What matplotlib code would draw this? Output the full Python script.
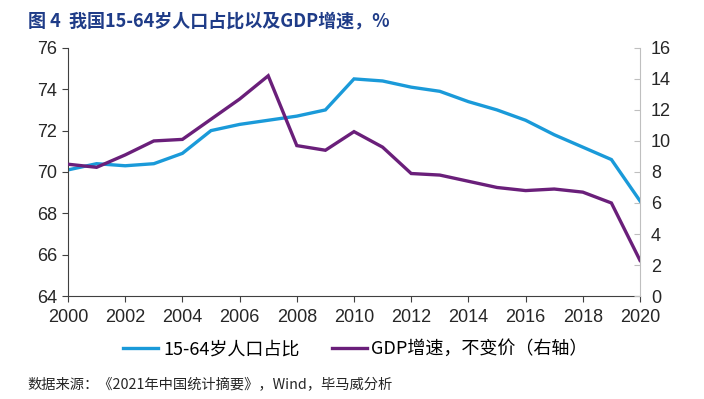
import matplotlib
matplotlib.use('Agg')
import matplotlib.pyplot as plt
from matplotlib.lines import Line2D

plt.rcParams['font.family'] = ['Noto Sans CJK SC', 'DejaVu Sans']

years = list(range(2000, 2021))
# 15-64岁人口占比, %
pop_share = [70.1, 70.4, 70.3, 70.4, 70.9, 72.0, 72.3, 72.5, 72.7, 73.0, 74.5,
             74.4, 74.1, 73.9, 73.4, 73.0, 72.5, 71.8, 71.2, 70.6, 68.6]
# GDP增速 不变价, %
gdp_growth = [8.5, 8.3, 9.1, 10.0, 10.1, 11.4, 12.7, 14.2, 9.7, 9.4, 10.6,
              9.6, 7.9, 7.8, 7.4, 7.0, 6.8, 6.9, 6.7, 6.0, 2.3]

blue = '#1a9ad9'
purple = '#6a1f7a'
tick_font = ['Liberation Sans', 'DejaVu Sans']

fig = plt.figure(figsize=(7.04, 3.99), dpi=100)
ax = fig.add_axes([0.0966, 0.258, 0.8125, 0.622])
ax2 = ax.twinx()

ax.plot(years, pop_share, color=blue, lw=2.4, solid_joinstyle='miter')
ax2.plot(years, gdp_growth, color=purple, lw=2.4, solid_joinstyle='miter')

ax.set_xlim(2000, 2020)
ax.set_ylim(64, 76)
ax2.set_ylim(0, 16)
ax.set_xticks(range(2000, 2021, 2))
ax.set_yticks(range(64, 77, 2))
ax2.set_yticks(range(0, 17, 2))

ax.spines['top'].set_visible(False)
ax2.spines['top'].set_visible(False)
ax.spines['right'].set_visible(False)
ax2.spines['left'].set_visible(False)
ax2.spines['bottom'].set_visible(False)
ax.spines['left'].set_color('#404040')
ax.spines['bottom'].set_color('#404040')
ax2.spines['right'].set_color('#bfbfbf')

ax.tick_params(axis='y', direction='out', length=4, color='#404040', labelsize=13, pad=4)
ax.tick_params(axis='x', direction='out', length=4, color='#404040', labelsize=13, pad=5)
ax2.tick_params(axis='y', direction='in', length=4, color='#bfbfbf', labelsize=13, pad=8)
for lab in ax.get_xticklabels() + ax.get_yticklabels() + ax2.get_yticklabels():
    lab.set_family(tick_font)
    lab.set_color('#262626')

fig.text(0.04, 0.948, '图 4  我国15-64岁人口占比以及GDP增速，%', fontsize=13,
         fontweight='bold', color='#1f3c88', va='center', ha='left')

handles = [Line2D([0], [0], color=blue, lw=2.4),
           Line2D([0], [0], color=purple, lw=2.4)]
fig.legend(handles, ['15-64岁人口占比', 'GDP增速，不变价（右轴）'],
           loc='center', bbox_to_anchor=(0.505, 0.125), ncol=2, frameon=False,
           fontsize=13, handlelength=1.95, handletextpad=0.25, columnspacing=1.8)

fig.text(0.039, 0.038, '数据来源：《2021年中国统计摘要》，Wind，毕马威分析', fontsize=10.3,
         color='#262626', va='center', ha='left')

fig.savefig('out.png', dpi=100)
